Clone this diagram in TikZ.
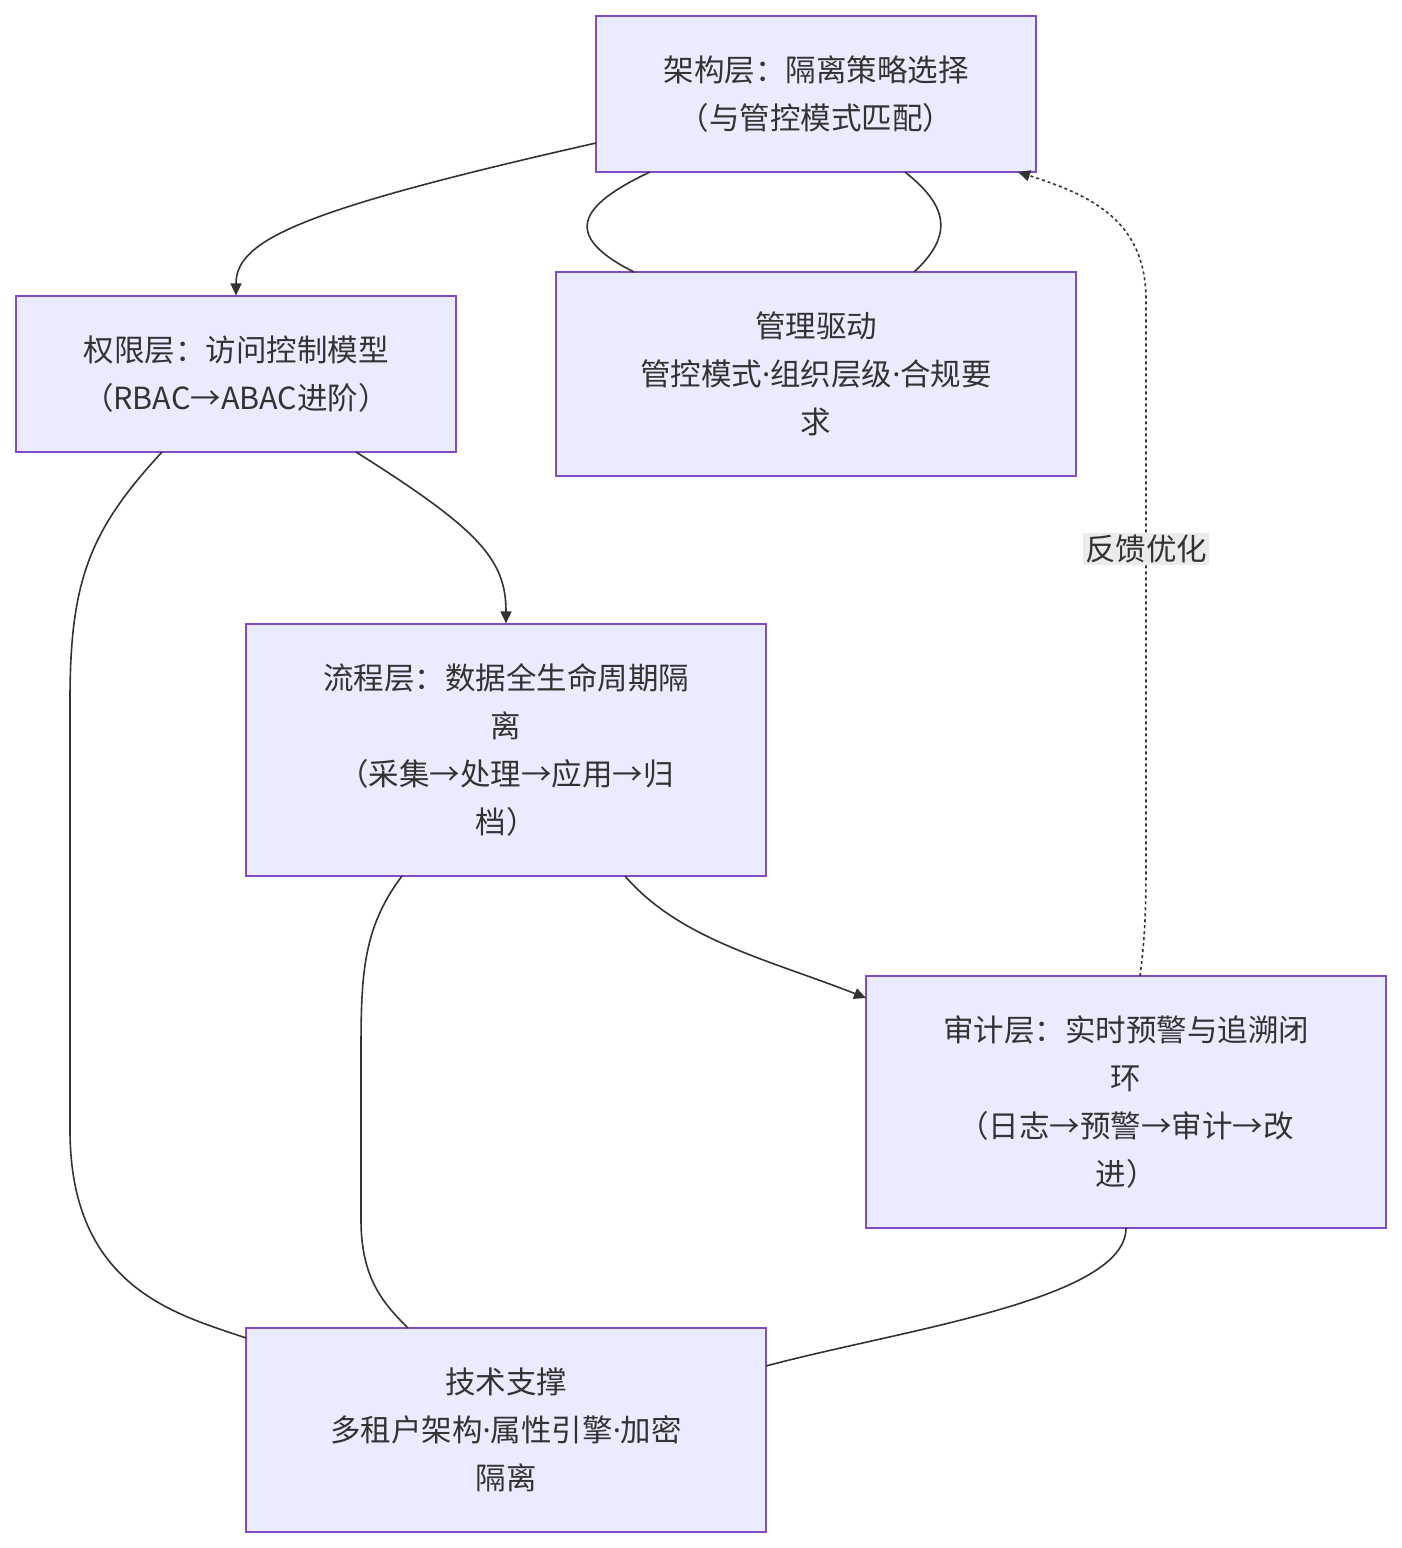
\documentclass[tikz,border=0pt]{standalone}
\usepackage{fontspec}
\setmainfont{Noto Sans CJK SC}
\newfontfamily\lat{Noto Sans}
\newcommand{\md}{{\lat ·}}
\usetikzlibrary{arrows.meta}
\begin{document}
\begin{tikzpicture}[x=1pt,y=-1pt,
 box/.style={draw=violet!60!blue!70, fill=blue!8, line width=1.2pt, minimum width=#1, align=center, font=\fontsize{30.5}{48}\selectfont, text=black!80, inner sep=0pt},
 ln/.style={line width=1.6pt, draw=black!80},
 ar/.style={ln, -{Triangle[length=12pt,width=11pt]}}]
\useasboundingbox (0,0) rectangle (1402,1548);
\node[box=440, minimum height=156] (arch) at (816,94) {架构层：隔离策略选择\\（与管控模式匹配）};
\node[box=520, minimum height=204] (mgmt) at (816,374) {管理驱动\\管控模式\md 组织层级\md 合规要\\求};
\node[box=440, minimum height=156] (perm) at (236,374) {权限层：访问控制模型\\（RBAC→ABAC进阶）};
\node[box=520, minimum height=252] (flow) at (506,750) {流程层：数据全生命周期隔\\离\\（采集→处理→应用→归\\档）};
\node[box=520, minimum height=252] (audit) at (1126,1102) {审计层：实时预警与追溯闭\\环\\（日志→预警→审计→改\\进）};
\node[box=520, minimum height=204] (tech) at (506,1430) {技术支撑\\多租户架构\md 属性引擎\md 加密\\隔离};
\coordinate (a1) at (596,143); \coordinate (a2) at (650,172); \coordinate (a3) at (905,172);
\coordinate (m1) at (634,272); \coordinate (m2) at (914,272);
\coordinate (p1) at (162,452); \coordinate (p2) at (356,452);
\coordinate (f1) at (402,876); \coordinate (f2) at (625,876);
\coordinate (t1) at (246,1338); \coordinate (t2) at (408,1328); \coordinate (t3) at (766,1366);
\coordinate (u1) at (1140,976); \coordinate (u2) at (1126,1228); \coordinate (au) at (866,998);
\coordinate (ae) at (1018,172);
\draw[ar] (a1) .. controls (300,210) and (236,240) .. (perm.north);
\draw[ln] (a2) .. controls (580,205) and (560,235) .. (m1);
\draw[ln] (a3) .. controls (940,200) and (960,230) .. (m2);
\draw[ar] (p2) .. controls (480,530) and (506,560) .. (flow.north);
\draw[ln] (p1) .. controls (90,530) and (70,580) .. (70,700) -- (70,1130) .. controls (70,1290) and (180,1315) .. (t1);
\draw[ln] (f1) .. controls (361,930) and (361,980) .. (361,1060) -- (361,1220) .. controls (361,1280) and (385,1305) .. (t2);
\draw[ar] (f2) .. controls (680,940) and (770,960) .. (au);
\draw[ln] (u2) .. controls (1126,1300) and (900,1330) .. (t3);
\draw[ln, dash pattern=on 3pt off 3pt, -{Triangle[length=12pt,width=11pt]}] (u1) .. controls (1146,930) and (1146,900) .. (1146,850) -- (1146,300) .. controls (1146,220) and (1090,195) .. (ae);
\node[fill=black!8, inner sep=2pt, font=\fontsize{30.5}{34}\selectfont, text=black!80] (lbl) at (1146,549) {反馈优化};
\end{tikzpicture}
\end{document}
